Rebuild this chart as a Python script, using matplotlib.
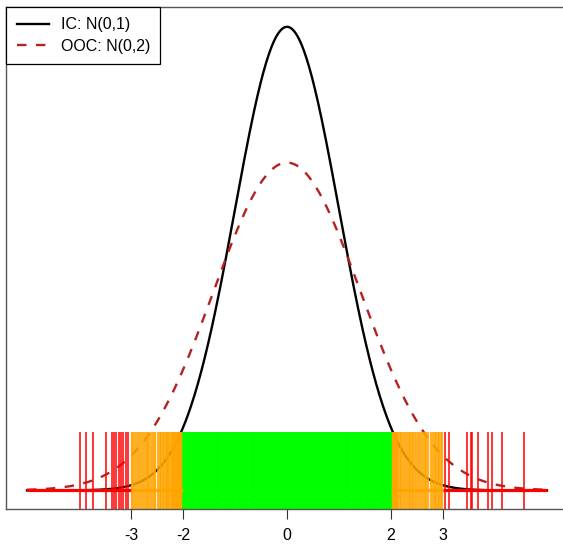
import numpy as np
import matplotlib
matplotlib.use("Agg")
import matplotlib.pyplot as plt

# distributions shown
ic_mean, ic_var = 0.0, 1.0
ooc_mean, ooc_var = 0.0, 2.0
labels = ["IC: N(0,1)", "OOC: N(0,2)"]
xticks = [-3, -2, 0, 2, 3]

red_left = [-3.98, -3.87, -3.74, -3.48, -3.37, -3.32, -3.28, -3.23, -3.19, -3.15, -3.10, -3.06]
orange_left = [-2.99, -2.96, -2.92, -2.88, -2.85, -2.81, -2.77, -2.74, -2.70, -2.67, -2.63,
               -2.60, -2.56, -2.53, -2.49, -2.45, -2.42, -2.39, -2.36, -2.33, -2.30, -2.28,
               -2.26, -2.24, -2.22, -2.20, -2.18, -2.16, -2.14, -2.12, -2.10, -2.08, -2.06,
               -2.04, -2.02, -2.01]
green = [-1.99, -1.96, -1.93, -1.90, -1.87, -1.83, -1.80, -1.76, -1.72, -1.69, -1.66, -1.62,
         -1.58, -1.55, -1.51, -1.48, -1.44, -1.40, -1.37, -1.33, -1.30, -1.26, -1.22, -1.19,
         -1.15, -1.12, -1.08, -1.04, -1.01, -0.97, -0.94, -0.90, -0.86, -0.83, -0.79, -0.76,
         -0.72, -0.68, -0.65, -0.61, -0.58, -0.54, -0.50, -0.47, -0.43, -0.40, -0.36, -0.32,
         -0.29, -0.25, -0.22, -0.18, -0.14, -0.11, -0.07, -0.04, 0.00, 0.03, 0.07, 0.10,
         0.14, 0.18, 0.21, 0.25, 0.28, 0.32, 0.36, 0.39, 0.43, 0.46, 0.50, 0.54, 0.57, 0.61,
         0.64, 0.68, 0.72, 0.75, 0.79, 0.82, 0.86, 0.90, 0.93, 0.97, 1.00, 1.04, 1.08, 1.11,
         1.15, 1.18, 1.22, 1.26, 1.29, 1.33, 1.36, 1.40, 1.44, 1.47, 1.51, 1.54, 1.58, 1.62,
         1.65, 1.69, 1.72, 1.76, 1.80, 1.83, 1.87, 1.90, 1.94, 1.97, 1.99]
orange_right = [2.01, 2.03, 2.05, 2.07, 2.09, 2.11, 2.13, 2.17, 2.20, 2.24, 2.27, 2.30, 2.34,
                2.37, 2.40, 2.43, 2.47, 2.50, 2.53, 2.57, 2.61, 2.65, 2.68, 2.71, 2.76, 2.80,
                2.84, 2.87, 2.90, 2.93, 2.96, 2.99]
red_right = [3.03, 3.12, 3.46, 3.53, 3.55, 3.67, 3.86, 3.95, 4.14, 4.56]

# baseline pieces by zone
zones = [(-5, -3, "red"), (-3, -2, "orange"), (-2, 2, "#00ff00"), (2, 3, "orange"), (3, 5, "red")]


def dnorm(x, m, v):
    return np.exp(-(x - m) ** 2 / (2 * v)) / np.sqrt(2 * np.pi * v)


plt.rcParams["font.family"] = ["Liberation Sans", "DejaVu Sans"]
fig = plt.figure(figsize=(5.63, 5.46), dpi=100)
ax = fig.add_axes([6.2 / 563, 37 / 546, 561.6 / 563, 502 / 546])

xs = np.linspace(-5, 5, 601)
ax.plot(xs, dnorm(xs, ic_mean, ic_var), color="black", lw=1.7, label=labels[0])
ax.plot(xs, dnorm(xs, ooc_mean, ooc_var), color="#b22222", lw=1.7, ls=(0, (4, 4)), label=labels[1])

ax.vlines(red_left + red_right, -1, 0.05, colors="red", lw=1.3, alpha=0.85)
ax.vlines(orange_left + orange_right, -1, 0.05, colors="orange", lw=1.6, alpha=0.85)
ax.vlines(green, -1, 0.05, colors="#00ff00", lw=2.6, alpha=1.0)

for a, b, c in zones:
    ax.plot([a, b], [0, 0], color=c, lw=2.3, solid_capstyle="butt")

ax.set_xlim(-5.4, 5.4)
ax.set_ylim(-0.016, 0.416)
ax.set_xticks(xticks)
ax.set_xticklabels([str(t) for t in xticks], fontsize=11.5)
ax.tick_params(axis="x", length=7, width=0.8, pad=7, color="#333333")
ax.set_yticks([])
for s in ax.spines.values():
    s.set_color("#555555")
    s.set_linewidth(1.0)

leg = ax.legend(loc="upper left", borderaxespad=0, fancybox=False, fontsize=11.5,
                handlelength=2.0, handletextpad=0.75, borderpad=0.65, labelspacing=0.4)
leg.get_frame().set_edgecolor("black")
leg.get_frame().set_linewidth(0.9)
leg.get_frame().set_alpha(1)

fig.savefig("out.png", dpi=100)
